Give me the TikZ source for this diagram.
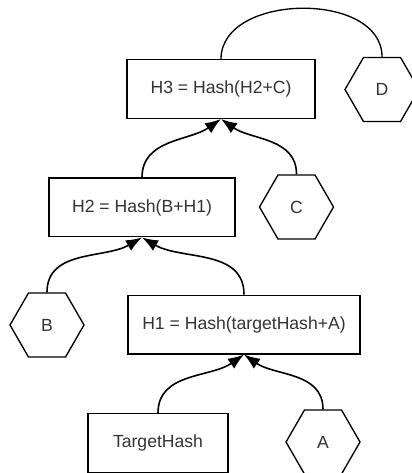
\documentclass[tikz,border=0pt]{standalone}
\usepackage{fontspec}
\setmainfont{Liberation Sans}
\usetikzlibrary{shapes.geometric,arrows.meta}

\begin{document}
\begin{tikzpicture}[x=0.75pt,y=-0.75pt,
        hashbox/.style={draw, line width=1pt, rectangle, minimum height=44pt, inner sep=0pt},
        leaf/.style={draw, line width=1pt, regular polygon, regular polygon sides=6, minimum size=55.5pt, inner sep=0pt},
        link/.style={line width=1.2pt, -{Latex[length=12pt,width=9pt]}},
        font=\fontsize{13.2}{16}\selectfont, text=black!80]
                \useasboundingbox (0,0) rectangle (411,473);

                \node [hashbox, minimum width=141pt] (h3) at (221,89) {H3 = Hash(H2+C)};
                \node [leaf] (d) at (382,89.5) {D};
                \node [hashbox, minimum width=139.5pt] (h2) at (142,207.5) {H2 = Hash(B+H1)};
                \node [leaf] (c) at (296.5,207) {C};
                \node [leaf] (b) at (47,325) {B};
                \node [hashbox, minimum width=174pt] (h1) at (244,324.5) {H1 = Hash(targetHash+A)};
                \node [hashbox, minimum width=105pt] (tgt) at (158,443) {TargetHash};
                \node [leaf] (a) at (323,442) {A};

                \draw[line width=1pt] (h3.north) to[out=90,in=90,looseness=1.05] (d.north);

                \draw[link] (h2.north) to[out=90,in=-145] (h3.south);
                \draw[link] (c.north) to[out=90,in=-35] (h3.south);
                \draw[link] (b.north) to[out=90,in=-150] (h2.south);
                \draw[link] (h1.north) to[out=90,in=-30] (h2.south);
                \draw[link] (tgt.north) to[out=90,in=-145] (h1.south);
                \draw[link] (a.north) to[out=90,in=-35] (h1.south);

\end{tikzpicture}
\end{document}
